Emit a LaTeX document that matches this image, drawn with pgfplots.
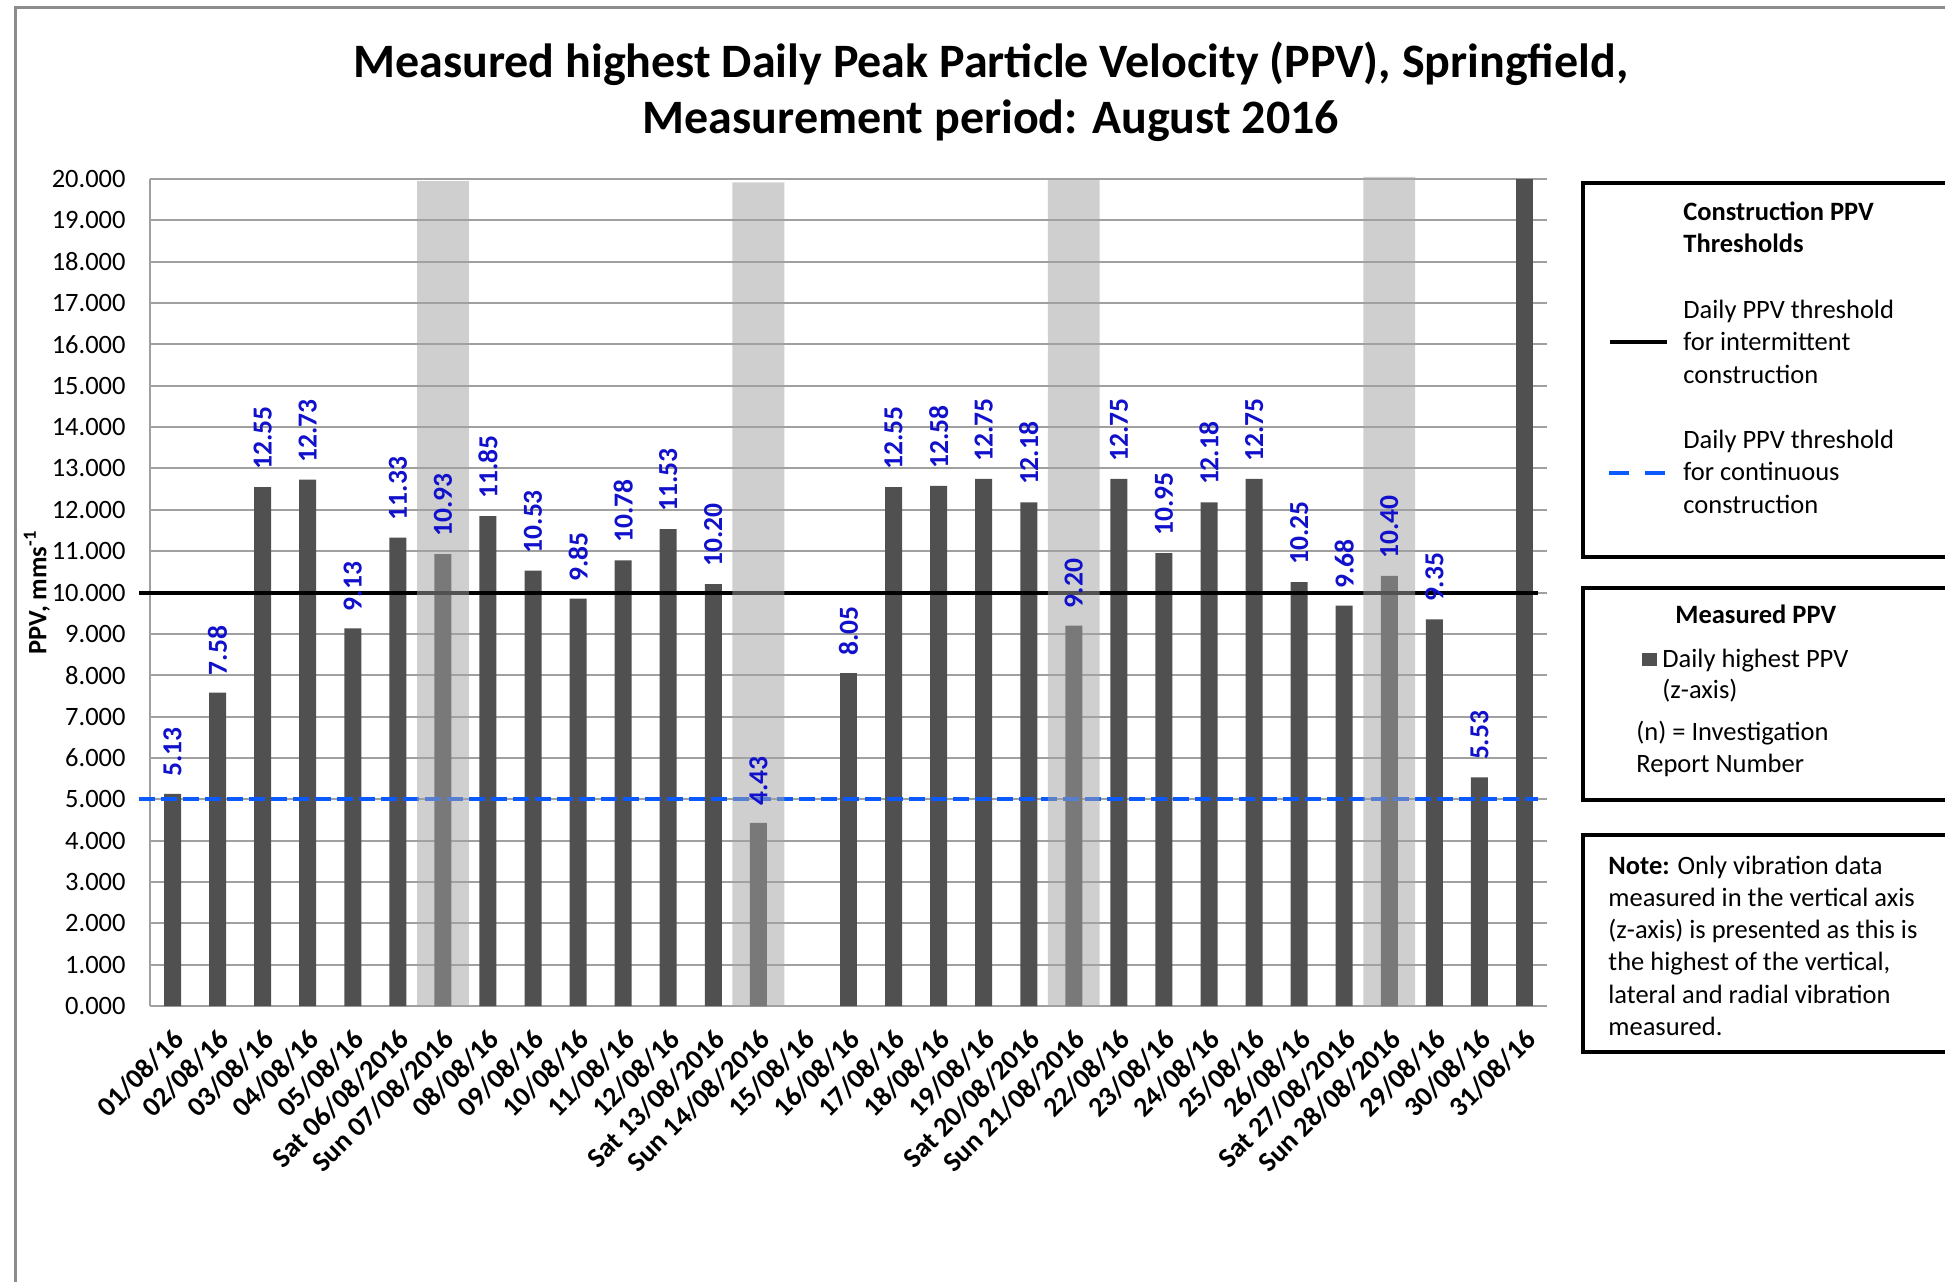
\documentclass[border=0pt]{standalone}
\usepackage{fontspec}
\setmainfont{Carlito}
\usepackage{pgfplots}
\usepackage{pgfplotstable}
\pgfplotsset{compat=1.18}
\definecolor{barc}{RGB}{80,80,80}
\definecolor{lblc}{RGB}{17,17,204}
\definecolor{wkd}{RGB}{162,162,162}
\definecolor{thrblue}{RGB}{10,90,255}
\definecolor{gridc}{RGB}{160,160,160}
\definecolor{framec}{RGB}{140,140,140}
\pgfplotstableread{
x y
0 5.13
1 7.58
2 12.55
3 12.73
4 9.13
5 11.33
6 10.93
7 11.85
8 10.53
9 9.85
10 10.78
11 11.53
12 10.20
13 4.43
15 8.05
16 12.55
17 12.58
18 12.75
19 12.18
20 9.20
21 12.75
22 10.95
23 12.18
24 12.75
25 10.25
26 9.68
27 10.40
28 9.35
29 5.53
}\ppvdata
\pgfplotstableread{
x y
30 20
}\lastday
\pgfplotstableread{
x y
6 19.95
13 19.92
20 20.0
27 20.05
}\weekend
\newcommand{\lfont}{\fontsize{13.25}{16}\selectfont}
\begin{document}
\begin{tikzpicture}
\path[use as bounding box] (0,0) rectangle (972.5pt,-640.5pt);
\clip (0,0) rectangle (972.5pt,-640.5pt);
\fill[white] (0,0) rectangle (972.5pt,-640.5pt);
\draw[framec, line width=1.5pt] (7.5pt,-645pt) -- (7.5pt,-3.5pt) -- (980pt,-3.5pt);
\begin{axis}[
  at={(75pt,-503pt)}, anchor=south west,
  scale only axis, width=698.5pt, height=413.5pt,
  xmin=-0.5, xmax=30.5, ymin=0, ymax=20,
  clip=false,
  /pgf/number format/assume math mode=true,
  axis x line*=bottom, axis y line*=left,
  axis line style={gridc, line width=1pt, -},
  ymajorgrids, major grid style={gridc, line width=1pt},
  major tick length=0pt,
  ytick={0,1,...,20},
  yticklabel style={/pgf/number format/.cd, fixed, fixed zerofill, precision=3, /tikz/.cd, font=\fontsize{13.25}{15}\selectfont, inner sep=0pt, xshift=-12pt},
  xtick={0,1,...,30},
  xticklabels={01/08/16, 02/08/16, 03/08/16, 04/08/16, 05/08/16, Sat 06/08/2016, Sun 07/08/2016, 08/08/16, 09/08/16, 10/08/16, 11/08/16, 12/08/16, Sat 13/08/2016, Sun 14/08/2016, 15/08/16, 16/08/16, 17/08/16, 18/08/16, 19/08/16, Sat 20/08/2016, Sun 21/08/2016, 22/08/16, 23/08/16, 24/08/16, 25/08/16, 26/08/16, Sat 27/08/2016, Sun 28/08/2016, 29/08/16, 30/08/16, 31/08/16},
  xticklabel style={xshift=-0.5pt, yshift=-10.5pt, rotate=45, anchor=north east, inner sep=0pt, font=\bfseries\fontsize{14}{16}\selectfont},
  ylabel={\bfseries PPV, mms\textsuperscript{-1}},
  ylabel style={at={(axis description cs:-0.0809,0.5)}, anchor=center, font=\fontsize{13.25}{15}\selectfont},
]
\addplot[ybar, bar width=0.377, bar shift=0pt, fill=barc, draw=none,
  nodes near coords={\bfseries\pgfmathprintnumber[fixed,fixed zerofill,precision=2]{\pgfplotspointmeta}},
  nodes near coords style={rotate=90, anchor=west, inner xsep=8.5pt, inner ysep=0pt, text=lblc, font=\bfseries\fontsize{13.75}{15}\selectfont}]
  table[x=x,y=y]{\ppvdata};
\addplot[ybar, bar width=0.377, bar shift=0pt, fill=barc, draw=none] table[x=x,y=y]{\lastday};
\addplot[black, line width=2pt] coordinates {(-0.744,10) (30.3,10)};
\addplot[thrblue, line width=2.2pt, dash pattern=on 8pt off 3pt] coordinates {(-0.744,5) (30.3,5)};
\addplot[ybar, bar width=1.15, bar shift=0pt, fill=wkd, fill opacity=0.51, draw=none] table[x=x,y=y]{\weekend};
\end{axis}
% title
\node[anchor=base, font=\bfseries\fontsize{24}{26}\selectfont] at (495.5pt,-38.5pt) {Measured highest Daily Peak Particle Velocity (PPV), Springfield,};
\node[anchor=base, font=\bfseries\fontsize{24}{26}\selectfont] at (495.5pt,-66.5pt) {Measurement period: August 2016};
% box 1
\draw[black, line width=2pt] (980pt,-91.5pt) -- (791.5pt,-91.5pt) -- (791.5pt,-278.5pt) -- (980pt,-278.5pt);
\node[anchor=base west, inner sep=0pt, font=\bfseries\lfont] at (841.5pt,-110pt) {Construction PPV};
\node[anchor=base west, inner sep=0pt, font=\bfseries\lfont] at (841.5pt,-126pt) {Thresholds};
\node[anchor=base west, inner sep=0pt, font=\lfont] at (841.5pt,-159pt) {Daily PPV threshold};
\node[anchor=base west, inner sep=0pt, font=\lfont] at (841.5pt,-175pt) {for intermittent};
\node[anchor=base west, inner sep=0pt, font=\lfont] at (841.5pt,-191.5pt) {construction};
\draw[black, line width=2pt] (805pt,-171pt) -- (833.5pt,-171pt);
\node[anchor=base west, inner sep=0pt, font=\lfont] at (841.5pt,-224pt) {Daily PPV threshold};
\node[anchor=base west, inner sep=0pt, font=\lfont] at (841.5pt,-240pt) {for continuous};
\node[anchor=base west, inner sep=0pt, font=\lfont] at (841.5pt,-256.5pt) {construction};
\draw[thrblue, line width=2pt, dash pattern=on 10pt off 8pt] (804.5pt,-236.5pt) -- (833pt,-236.5pt);
% box 2
\draw[black, line width=2pt] (980pt,-294pt) -- (791.5pt,-294pt) -- (791.5pt,-400pt) -- (980pt,-400pt);
\node[anchor=base west, inner sep=0pt, font=\bfseries\lfont] at (837.5pt,-311.5pt) {Measured PPV};
\fill[barc] (821pt,-326.5pt) rectangle (828.5pt,-333pt);
\node[anchor=base west, inner sep=0pt, font=\lfont] at (831pt,-333.5pt) {Daily highest PPV};
\node[anchor=base west, inner sep=0pt, font=\lfont] at (831pt,-349pt) {(z-axis)};
\node[anchor=base west, inner sep=0pt, font=\lfont] at (818pt,-370pt) {(n) = Investigation};
\node[anchor=base west, inner sep=0pt, font=\lfont] at (818pt,-386pt) {Report Number};
% box 3
\draw[black, line width=2pt] (980pt,-417.5pt) -- (791.5pt,-417.5pt) -- (791.5pt,-526pt) -- (980pt,-526pt);
\node[anchor=base west, inner sep=0pt, font=\lfont] at (804pt,-437pt) {\textbf{Note:} Only vibration data};
\node[anchor=base west, inner sep=0pt, font=\lfont] at (804pt,-453pt) {measured in the vertical axis};
\node[anchor=base west, inner sep=0pt, font=\lfont] at (804pt,-469pt) {(z-axis) is presented as this is};
\node[anchor=base west, inner sep=0pt, font=\lfont] at (804pt,-485pt) {the highest of the vertical,};
\node[anchor=base west, inner sep=0pt, font=\lfont] at (804pt,-501.5pt) {lateral and radial vibration};
\node[anchor=base west, inner sep=0pt, font=\lfont] at (804pt,-517.5pt) {measured.};
\end{tikzpicture}
\end{document}
